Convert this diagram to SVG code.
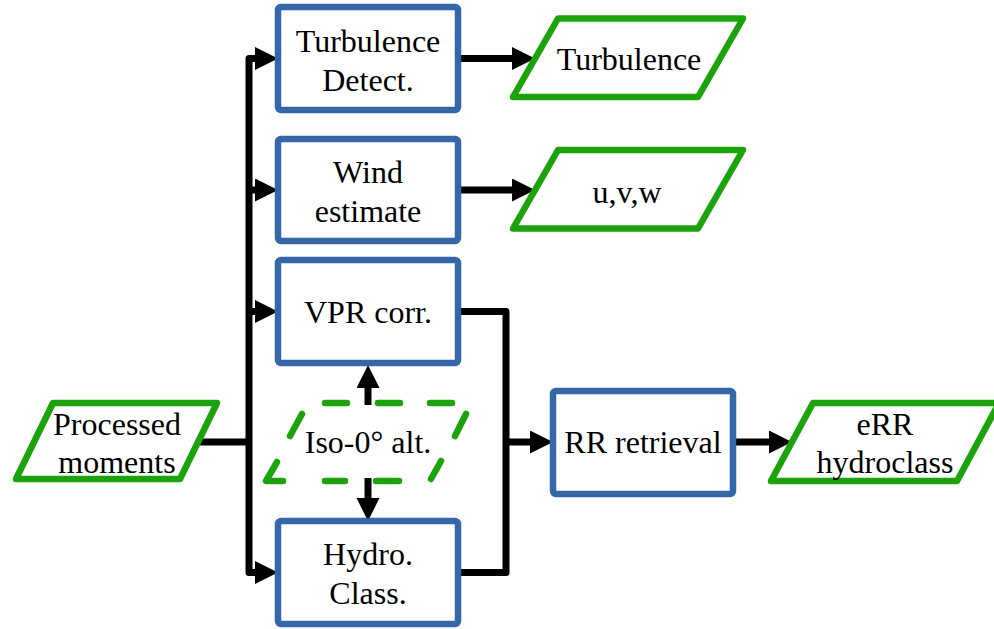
<svg xmlns="http://www.w3.org/2000/svg" width="994" height="629" viewBox="0 0 994 629">
<style>
.box{fill:#fff;stroke:#3566A8;stroke-width:6.5}
.io{fill:#fff;stroke:#1CA30C;stroke-width:6.5;stroke-linejoin:round}
.dash{fill:none;stroke:#1CA30C;stroke-width:6.5;stroke-linecap:round;stroke-linejoin:round}
.t{font-family:"Liberation Serif","Times New Roman",serif;font-size:32px;fill:#000;text-anchor:middle}
.c{fill:none;stroke:#000;stroke-width:7;stroke-linejoin:round}
</style>
<defs>
<marker id="ah" markerUnits="userSpaceOnUse" markerWidth="24" markerHeight="24" refX="0" refY="11.5" orient="auto">
<path d="M0,0 L23,11.5 L0,23 z" fill="#000"/>
</marker>
</defs>
<rect width="994" height="629" fill="#fff"/>
<g id="connectors">
<path class="c" d="M197,442 H249"/>
<path class="c" d="M249,442 V58.5 H255" marker-end="url(#ah)"/>
<path class="c" d="M249,442 V572.5 H255" marker-end="url(#ah)"/>
<path class="c" d="M249,190 H255" marker-end="url(#ah)"/>
<path class="c" d="M249,311.5 H255" marker-end="url(#ah)"/>
<path class="c" d="M461,58.5 H512" marker-end="url(#ah)"/>
<path class="c" d="M461,190 H512" marker-end="url(#ah)"/>
<path class="c" d="M461,311.5 H506 V572.5 H461"/>
<path class="c" d="M506,442 H530" marker-end="url(#ah)"/>
<path class="c" d="M736,442 H769" marker-end="url(#ah)"/>
<path class="c" d="M368,405 V388" marker-end="url(#ah)"/>
<path class="c" d="M368,478 V498" marker-end="url(#ah)"/>
</g>
<g id="processed">
<path class="io" d="M53,403 H217 L180,479 H16 Z"/>
<text class="t" x="117" y="435">Processed</text>
<text class="t" x="117" y="473">moments</text>
</g>
<g id="turb-detect">
<rect class="box" x="278" y="7" width="180" height="103" rx="3"/>
<text class="t" x="368" y="52">Turbulence</text>
<text class="t" x="368" y="91">Detect.</text>
</g>
<g id="wind">
<rect class="box" x="278" y="139" width="180" height="102" rx="3"/>
<text class="t" x="368" y="183">Wind</text>
<text class="t" x="368" y="222">estimate</text>
</g>
<g id="vpr">
<rect class="box" x="278" y="260" width="180" height="103" rx="3"/>
<text class="t" x="368" y="323">VPR corr.</text>
</g>
<g id="iso">
<path class="dash" d="M325,403 H347 M378,403 H400 M430,403 H452 M466,414 L455,436 M441,461 L431,479 M399,481 H376 M345,481 H325 M277,462 L266,481 H283 M302,414 L290,436"/>
<text class="t" x="368" y="453">Iso-0° alt.</text>
</g>
<g id="hydro">
<rect class="box" x="278" y="521" width="180" height="103" rx="3"/>
<text class="t" x="368" y="565">Hydro.</text>
<text class="t" x="368" y="604">Class.</text>
</g>
<g id="rr">
<rect class="box" x="553" y="391" width="180" height="103" rx="3"/>
<text class="t" x="643" y="453">RR retrieval</text>
</g>
<g id="turb-out">
<path class="io" d="M558,18.5 H743 L698,97 H513 Z"/>
<text class="t" x="629" y="70">Turbulence</text>
</g>
<g id="uvw">
<path class="io" d="M558,150 H743 L698,228.5 H513 Z"/>
<text class="t" x="627" y="203">u,v,w</text>
</g>
<g id="err">
<path class="io" d="M813,403 H999 L957,481 H771 Z"/>
<text class="t" x="885" y="435">eRR</text>
<text class="t" x="885" y="473">hydroclass</text>
</g>
</svg>
